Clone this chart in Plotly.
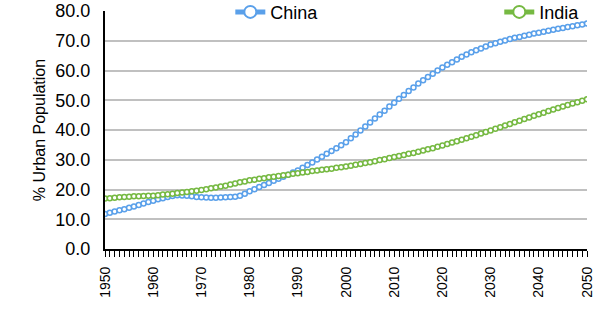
import plotly.graph_objects as go

years = list(range(1950, 2051))

china = [
    11.8, 12.2, 12.6, 13.0, 13.4, 13.9, 14.3, 14.8, 15.3, 15.8,
    16.2, 16.7, 17.1, 17.5, 17.8, 18.1, 18.0, 17.9, 17.7, 17.5,
    17.4, 17.3, 17.2, 17.2, 17.3, 17.4, 17.5, 17.6, 17.9, 18.6,
    19.4, 20.1, 20.8, 21.5, 22.2, 22.9, 23.6, 24.3, 25.0, 25.7,
    26.4, 27.3, 28.2, 29.1, 30.1, 31.0, 32.0, 32.9, 33.9, 34.9,
    35.9, 37.2, 38.5, 39.8, 41.2, 42.5, 43.9, 45.2, 46.5, 47.9,
    49.2, 50.5, 51.8, 53.1, 54.3, 55.6, 56.7, 57.8, 58.9, 60.0,
    61.0, 61.9, 62.8, 63.7, 64.6, 65.4, 66.1, 66.8, 67.4, 68.1,
    68.7, 69.2, 69.7, 70.1, 70.6, 71.0, 71.3, 71.7, 72.0, 72.4,
    72.7, 73.0, 73.4, 73.7, 74.0, 74.3, 74.6, 74.9, 75.2, 75.5,
    75.8,
]

india = [
    17.0, 17.1, 17.2, 17.4, 17.5, 17.6, 17.7, 17.7, 17.8, 17.9,
    17.9, 18.1, 18.3, 18.4, 18.6, 18.8, 19.0, 19.2, 19.4, 19.6,
    19.8, 20.1, 20.4, 20.7, 21.0, 21.3, 21.7, 22.0, 22.4, 22.7,
    23.1, 23.3, 23.6, 23.8, 24.1, 24.3, 24.5, 24.8, 25.0, 25.3,
    25.5, 25.7, 25.9, 26.2, 26.4, 26.6, 26.8, 27.0, 27.3, 27.5,
    27.7, 28.0, 28.3, 28.6, 28.9, 29.2, 29.5, 29.9, 30.2, 30.6,
    30.9, 31.3, 31.6, 32.0, 32.3, 32.7, 33.1, 33.5, 33.9, 34.4,
    34.8, 35.3, 35.8, 36.2, 36.7, 37.2, 37.7, 38.2, 38.8, 39.3,
    39.8, 40.4, 40.9, 41.5, 42.0, 42.6, 43.1, 43.7, 44.2, 44.8,
    45.3, 45.8, 46.4, 46.9, 47.4, 47.9, 48.4, 48.9, 49.3, 49.8,
    50.3,
]

x_tick_vals = list(range(1950, 2051, 10))
x_tick_text = [str(v) for v in x_tick_vals]
y_tick_vals = [0, 10, 20, 30, 40, 50, 60, 70, 80]

BLUE = "#5aa0ea"
GREEN = "#76b942"
FONT = "Liberation Sans, Arial, sans-serif"

fig = go.Figure()
fig.add_trace(go.Scatter(
    x=years, y=china, name="China", mode="lines+markers",
    line=dict(color=BLUE, width=1.2),
    marker=dict(symbol="circle", size=5, color="white",
                line=dict(color=BLUE, width=1.5)),
    legend="legend", showlegend=True,
))
fig.add_trace(go.Scatter(
    x=years, y=india, name="India", mode="lines+markers",
    line=dict(color=GREEN, width=1.2),
    marker=dict(symbol="circle", size=5, color="white",
                line=dict(color=GREEN, width=1.5)),
    legend="legend2", showlegend=True,
))

leg_common = dict(
    orientation="h", yanchor="middle", xanchor="left",
    bgcolor="rgba(0,0,0,0)", borderwidth=0,
    font=dict(family=FONT, size=18, color="#000"),
    itemsizing="constant", visible=True,
)

fig.update_layout(
    width=600, height=326,
    showlegend=True,
    margin=dict(l=105, r=13, t=11, b=77, autoexpand=False),
    paper_bgcolor="white", plot_bgcolor="white",
    font=dict(family=FONT, color="#000"),
    legend=dict(x=0.26, y=0.995, **leg_common),
    legend2=dict(x=0.818, y=0.995, **leg_common),
    xaxis=dict(
        range=[1950, 2050],
        tickmode="array", tickvals=x_tick_vals, ticktext=x_tick_text,
        tickangle=-90, tickfont=dict(family=FONT, size=14, color="#000"),
        ticks="outside", ticklen=6, tickwidth=1, tickcolor="#000",
        minor=dict(dtick=1, ticks="outside", ticklen=6, tickwidth=1,
                   tickcolor="#000", showgrid=False),
        showline=True, linecolor="#000", linewidth=2,
        showgrid=False, zeroline=False,
        ticklabelstandoff=4,
    ),
    yaxis=dict(
        range=[0, 80],
        tickmode="array", tickvals=y_tick_vals, tickformat=".1f",
        tickfont=dict(family=FONT, size=18, color="#000"),
        showline=True, linecolor="#000", linewidth=2,
        showgrid=True, gridcolor="#c0c0c0", gridwidth=1.5,
        zeroline=False, ticks="",
        ticklabelstandoff=9,
        title=dict(text="% Urban Population",
                   font=dict(family=FONT, size=16, color="#000"),
                   standoff=6),
    ),
)

fig.write_html("out.html")
